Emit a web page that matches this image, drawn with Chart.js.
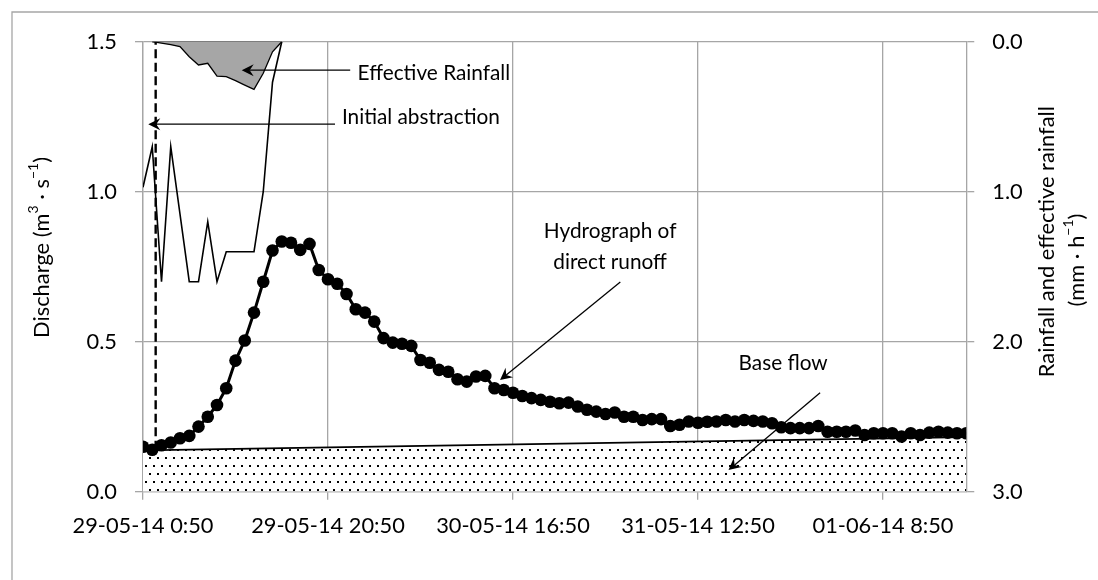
<!DOCTYPE html>
<html>
<head>
<meta charset="utf-8">
<script src="https://cdn.jsdelivr.net/npm/chart.js@4.4.1/dist/chart.umd.min.js"></script>
<style>
  html, body { margin: 0; padding: 0; background: #fff; }
  #wrap { width: 1098px; height: 580px; position: relative; }
</style>
</head>
<body>
<div id="wrap"><canvas id="chart"></canvas></div>
<script>
// hours after 29-05-14 0:50
const hours = [
  0, 1, 2, 3, 4, 5, 6, 7, 8, 9, 10, 11, 12, 13, 14, 15, 16, 17, 18, 19,
  20, 21, 22, 23, 24, 25, 26, 27, 28, 29, 30, 31, 32, 33, 34, 35, 36, 37, 38, 39,
  40, 41, 42, 43, 44, 45, 46, 47, 48, 49, 50, 51, 52, 53, 54, 55, 56, 57, 58, 59,
  60, 61, 62, 63, 64, 65, 66, 67, 68, 69, 70, 71, 72, 73, 74, 75, 76, 77, 78, 79,
  80, 81, 82, 83, 84, 85, 86, 87, 88, 89
];
const tickHours = [0, 20, 40, 60, 80];
const tickLabels = ['29-05-14 0:50', '29-05-14 20:50', '30-05-14 16:50', '31-05-14 12:50', '01-06-14 8:50'];

// discharge m3/s
const discharge = [
  0.150, 0.140, 0.155, 0.164, 0.178, 0.186, 0.217, 0.250, 0.289, 0.345,
  0.437, 0.504, 0.597, 0.700, 0.804, 0.834, 0.830, 0.806, 0.826, 0.739,
  0.708, 0.693, 0.659, 0.608, 0.597, 0.567, 0.512, 0.497, 0.493, 0.486,
  0.439, 0.430, 0.406, 0.400, 0.375, 0.367, 0.384, 0.386, 0.345, 0.339,
  0.330, 0.319, 0.312, 0.306, 0.300, 0.295, 0.297, 0.284, 0.273, 0.267,
  0.259, 0.264, 0.250, 0.250, 0.239, 0.242, 0.242, 0.219, 0.223, 0.234,
  0.230, 0.233, 0.234, 0.239, 0.234, 0.239, 0.236, 0.234, 0.228, 0.215,
  0.212, 0.212, 0.212, 0.219, 0.200, 0.200, 0.200, 0.204, 0.189, 0.195,
  0.195, 0.195, 0.184, 0.195, 0.189, 0.197, 0.200, 0.197, 0.195, 0.195
];

// rainfall and effective rainfall mm/h (first hours of the event)
const rainfall = [0.97, 0.70, 1.60, 0.70, 1.15, 1.60, 1.60, 1.20, 1.60, 1.40, 1.40, 1.40, 1.40, 1.00, 0.27, 0.00];
const effective = [null, 0.00, 0.01, 0.02, 0.033, 0.10, 0.155, 0.144, 0.229, 0.233, 0.26, 0.289, 0.318, 0.21, 0.067, 0.00];

// base flow separation line
const baseHours = [0, 89];
const baseFlow = [0.138, 0.182];

// initial abstraction marker
const abstractionHour = 1.37;
const abstractionRange = [0.14, 1.5];

const pts = (xs, ys) => ys.map((v, i) => ({ x: xs[i], y: v }));

const canvas = document.getElementById('chart');
const cctx = canvas.getContext('2d');

const FONT = 'Lato';
const SUP = 0.65;
// size the font so a string gets the width it has in the original
function fitSize(text, width) {
  cctx.font = '100px ' + FONT;
  return Math.round(100 * width / cctx.measureText(text).width * 10) / 10;
}
const TICK_FS = fitSize('01-06-14 8:50', 141);
const FS = fitSize('Rainfall and effective rainfall', 271);
const NOTE_FS = FS * 0.95;

const titles = [
  { parts: [{ t: 'Discharge (m' }, { t: '3', sup: true }, { t: ' \u00b7 s' }, { t: '\u22121', sup: true }, { t: ')' }], cx: 41.5, cy: 247.5 },
  { parts: [{ t: 'Rainfall and effective rainfall' }], cx: 1047, cy: 241.7 },
  { parts: [{ t: '(mm \u00b7 h' }, { t: '\u22121', sup: true }, { t: ')' }], cx: 1077, cy: 260 }
];

function dotPattern() {
  const c = document.createElement('canvas');
  c.width = 8; c.height = 16;
  const g = c.getContext('2d');
  g.fillStyle = '#fff';
  g.fillRect(0, 0, 8, 16);
  g.fillStyle = '#000';
  g.fillRect(1, 1, 2, 2);
  g.fillRect(5, 9, 2, 2);
  return cctx.createPattern(c, 'repeat');
}

const effIdx = effective.map((v, i) => v === null ? null : i).filter(v => v !== null);
const effTop = [
  { x: hours[effIdx[0]], y: 0 },
  { x: hours[effIdx[effIdx.length - 1]], y: 0 }
];

const notes = [
  { lines: ['Effective Rainfall'], x: 23.2, y: [1.396], align: 'left', from: [22.4, 1.405], to: [10.67, 1.405] },
  { lines: ['Initial abstraction'], x: 21.5, y: [1.249], align: 'left', from: [20.76, 1.225], to: [0.57, 1.225] },
  { lines: ['Hydrograph of', 'direct runoff'], x: 50.5, y: [0.869, 0.766], align: 'center', from: [51.6, 0.699], to: [38.6, 0.372] },
  { lines: ['Base flow'], x: 69.2, y: [0.429], align: 'center', from: [73.2, 0.33], to: [63.3, 0.072] }
];

function arrow(ctx, x1, y1, x2, y2) {
  const a = Math.atan2(y2 - y1, x2 - x1);
  const c = Math.cos(a), s = Math.sin(a);
  const L = 12, W = 6, N = 8;
  ctx.lineWidth = 1.3;
  ctx.beginPath();
  ctx.moveTo(x1, y1);
  ctx.lineTo(x2 - N * c, y2 - N * s);
  ctx.stroke();
  ctx.beginPath();
  ctx.moveTo(x2, y2);
  ctx.lineTo(x2 - L * c + W * s, y2 - L * s - W * c);
  ctx.lineTo(x2 - N * c, y2 - N * s);
  ctx.lineTo(x2 - L * c - W * s, y2 - L * s + W * c);
  ctx.closePath();
  ctx.fill();
}

function richText(ctx, parts, size, cx, cy) {
  ctx.save();
  ctx.translate(cx, cy);
  ctx.rotate(-Math.PI / 2);
  const big = size + 'px ' + FONT, small = Math.round(size * SUP) + 'px ' + FONT;
  let w = 0;
  parts.forEach(p => { ctx.font = p.sup ? small : big; p.w = ctx.measureText(p.t).width; w += p.w; });
  let x = -w / 2;
  ctx.textBaseline = 'middle';
  ctx.textAlign = 'left';
  parts.forEach(p => {
    ctx.font = p.sup ? small : big;
    ctx.fillText(p.t, x, p.sup ? -size * 0.38 : 0);
    x += p.w;
  });
  ctx.restore();
}

const extras = {
  id: 'extras',
  beforeDraw(chart) {
    const ctx = chart.ctx;
    ctx.save();
    ctx.strokeStyle = '#a6a6a6';
    ctx.lineWidth = 1.3;
    ctx.beginPath();
    ctx.moveTo(12, 580);
    ctx.lineTo(12, 12);
    ctx.lineTo(1098, 12);
    ctx.stroke();
    ctx.restore();
  },
  afterDatasetsDraw(chart) {
    const { ctx, scales: { x, y } } = chart;
    ctx.save();
    ctx.fillStyle = '#000';
    ctx.strokeStyle = '#000';
    ctx.font = NOTE_FS + 'px ' + FONT;
    ctx.textBaseline = 'middle';
    notes.forEach(n => {
      ctx.textAlign = n.align;
      n.lines.forEach((t, i) => ctx.fillText(t, x.getPixelForValue(n.x), y.getPixelForValue(n.y[i])));
      arrow(ctx, x.getPixelForValue(n.from[0]), y.getPixelForValue(n.from[1]),
        x.getPixelForValue(n.to[0]), y.getPixelForValue(n.to[1]));
    });
    ctx.restore();
  },
  afterDraw(chart) {
    const ctx = chart.ctx;
    ctx.save();
    ctx.fillStyle = '#000';
    titles.forEach(t => richText(ctx, t.parts, FS, t.cx, t.cy));
    ctx.restore();
  }
};

Chart.defaults.font.family = FONT;
Chart.defaults.font.size = TICK_FS;
Chart.defaults.color = '#000';

const gridColor = '#a6a6a6';

new Chart(canvas, {
  type: 'line',
  data: {
    datasets: [
      {
        label: 'Discharge',
        data: pts(hours, discharge),
        yAxisID: 'y',
        borderColor: '#000',
        borderWidth: 3,
        pointRadius: 6.3,
        pointBackgroundColor: '#000',
        pointBorderWidth: 0,
        tension: 0,
        order: 1
      },
      {
        label: 'Initial abstraction',
        data: abstractionRange.map(v => ({ x: abstractionHour, y: v })),
        yAxisID: 'y',
        borderColor: '#000',
        borderWidth: 2.4,
        borderDash: [9, 4.5],
        pointRadius: 0,
        order: 2
      },
      {
        label: 'Effective rainfall',
        data: pts(hours, effective),
        yAxisID: 'y2',
        borderColor: '#000',
        borderWidth: 1.3,
        backgroundColor: '#a6a6a6',
        fill: 'origin',
        pointRadius: 0,
        order: 3
      },
      {
        label: 'Effective rainfall top',
        data: effTop,
        yAxisID: 'y2',
        borderColor: '#000',
        borderWidth: 1.3,
        pointRadius: 0,
        order: 3
      },
      {
        label: 'Rainfall',
        data: pts(hours, rainfall),
        yAxisID: 'y2',
        borderColor: '#000',
        borderWidth: 1.6,
        pointRadius: 0,
        order: 4
      },
      {
        label: 'Base flow',
        data: pts(baseHours, baseFlow),
        yAxisID: 'y',
        borderColor: '#000',
        borderWidth: 1.8,
        backgroundColor: dotPattern(),
        fill: 'origin',
        pointRadius: 0,
        order: 5
      }
    ]
  },
  options: {
    responsive: true,
    maintainAspectRatio: false,
    animation: false,
    layout: { padding: { top: 41.7, left: 0, right: 0, bottom: 0 } },
    plugins: { legend: { display: false }, tooltip: { enabled: false } },
    scales: {
      x: {
        type: 'linear',
        min: 0,
        max: 89,
        afterFit: s => { s.height = 88.3; },
        ticks: {
          stepSize: 20,
          includeBounds: false,
          padding: 13,
          maxRotation: 0,
          autoSkip: false,
          callback: v => { const i = tickHours.indexOf(v); return i >= 0 ? tickLabels[i] : ''; }
        },
        grid: { color: gridColor, lineWidth: 1.3, tickLength: 8 },
        border: { color: gridColor, width: 1.3 }
      },
      y: {
        position: 'left',
        min: 0,
        max: 1.5,
        afterFit: s => { s.width = 143; },
        ticks: { stepSize: 0.5, padding: 18, callback: v => v.toFixed(1) },
        grid: { color: gridColor, lineWidth: 1.3, tickLength: 8 },
        border: { color: gridColor, width: 1.3 }
      },
      y2: {
        position: 'right',
        min: 0,
        max: 3,
        reverse: true,
        afterFit: s => { s.width = 131.75; },
        ticks: { stepSize: 1, padding: 18, callback: v => v.toFixed(1) },
        grid: { drawOnChartArea: false, color: gridColor, lineWidth: 1.3, tickLength: 8 },
        border: { color: gridColor, width: 1.3 }
      }
    }
  },
  plugins: [extras]
});
</script>
</body>
</html>
